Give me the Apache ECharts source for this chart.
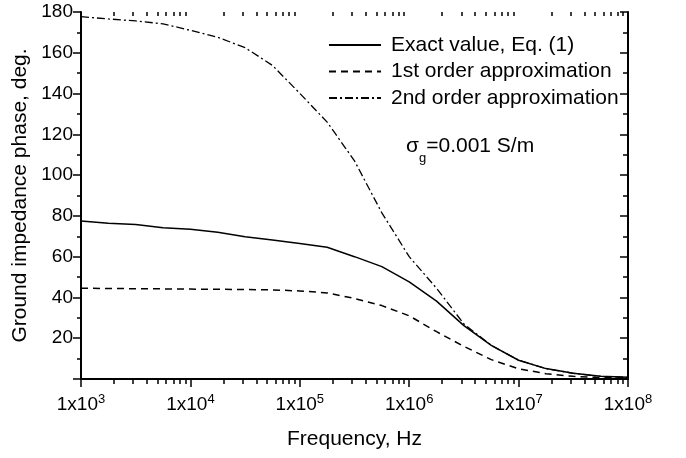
<!DOCTYPE html>
<html>
<head>
<meta charset="utf-8">
<script src="https://cdn.jsdelivr.net/npm/echarts@6/dist/echarts.min.js"></script>
<style>html,body{margin:0;padding:0;background:#fff}#c{width:686px;height:458px}</style>
</head>
<body>
<div id="c"></div>
<script>
// Frequencies (Hz) at which values were read
var freq = [1e3, 1778, 3162, 5623, 1e4, 17783, 31623, 56234, 1e5, 177828, 316228, 562341, 1e6, 1778279, 3162278, 5623413, 1e7, 17782794, 31622777, 56234133, 1e8];
// Exact value, Eq. (1)
var exactVals = [77.5, 76.4, 75.8, 74.2, 73.4, 72.0, 69.8, 68.2, 66.5, 64.6, 60.0, 55.1, 47.6, 38.2, 26.2, 16.5, 9.2, 5.1, 2.8, 1.3, 0.8];
// 1st order approximation
var firstVals = [44.5, 44.4, 44.3, 44.2, 44.1, 44.0, 43.9, 43.7, 43.2, 42.2, 39.5, 36.0, 31.0, 23.2, 16.0, 9.5, 5.0, 2.6, 1.3, 0.7, 0.4];
// 2nd order approximation
var secondVals = [177.7, 176.6, 175.6, 174.2, 171.0, 167.6, 162.5, 153.8, 140.1, 126.0, 107.0, 81.5, 60.0, 44.5, 27.0, 16.5, 9.2, 5.1, 2.8, 1.3, 0.8];
var seriesNames = ['Exact value, Eq. (1)', '1st order approximation', '2nd order approximation'];
// x-axis tick values: decades (major) and 2..9 within each decade (minor)
var majorTickVals = [1e3, 1e4, 1e5, 1e6, 1e7, 1e8];
var minorTickVals = [];
majorTickVals.slice(0, 5).forEach(function (d) { for (var k = 2; k <= 9; k++) minorTickVals.push(k * d); });

function pairs(vals) { return freq.map(function (f, i) { return [f, vals[i]]; }); }

var FONT = 'Liberation Sans, Arial, sans-serif';
var chart = echarts.init(document.getElementById('c'), null, { renderer: 'canvas' });
var axisLine = { show: true, lineStyle: { color: '#000', width: 2 } };
var noLine = { show: false };

function minorXAxis(position, inside, len) {
  return {
    type: 'log', logBase: 10, min: 1e3, max: 1e8, position: position,
    axisLine: noLine,
    axisTick: { show: true, inside: inside, length: len, customValues: minorTickVals, lineStyle: { color: '#000', width: 1.5 } },
    axisLabel: { show: false }, splitLine: { show: false }
  };
}

chart.setOption({
  animation: false,
  backgroundColor: '#fff',
  grid: { left: 81, right: 58, top: 12, bottom: 79 },
  legend: {
    data: seriesNames,
    orient: 'vertical',
    left: 323, top: 29.5,
    itemWidth: 52, itemHeight: 14, itemGap: 5.5,
    itemStyle: { opacity: 0 },
    textStyle: { fontFamily: FONT, fontSize: 21, lineHeight: 21, color: '#000', padding: [0, 0, 0, 5] }
  },
  graphic: [{
    type: 'text', left: 406, top: 136,
    style: {
      text: '{b|σ}{s|g}{b|=0.001 S/m}',
      rich: {
        b: { fontFamily: FONT, fontSize: 21, fill: '#000', lineHeight: 36 },
        s: { fontFamily: FONT, fontSize: 13, fill: '#000', lineHeight: 12, verticalAlign: 'bottom' }
      }
    }
  }],
  xAxis: [{
    type: 'log', logBase: 10, min: 1e3, max: 1e8, position: 'bottom',
    name: 'Frequency, Hz', nameLocation: 'middle', nameGap: 50,
    nameTextStyle: { fontFamily: FONT, fontSize: 21, color: '#000' },
    axisLine: axisLine,
    axisTick: { show: true, inside: false, length: 6, lineStyle: { color: '#000', width: 1.5 } },
    splitLine: { show: false },
    axisLabel: {
      margin: 14, fontFamily: FONT, fontSize: 19, color: '#000',
      formatter: function (v) { return '{base|1x10}{sup|' + Math.round(Math.log10(v)) + '}'; },
      rich: {
        base: { fontFamily: FONT, fontSize: 19, color: '#000', lineHeight: 24 },
        sup: { fontFamily: FONT, fontSize: 13, color: '#000', lineHeight: 13, verticalAlign: 'top' }
      }
    }
  }, {
    type: 'log', logBase: 10, min: 1e3, max: 1e8, position: 'top',
    axisLine: axisLine,
    axisTick: { show: true, inside: true, length: 8, lineStyle: { color: '#000', width: 1.5 } },
    axisLabel: { show: false }, splitLine: { show: false }
  }, minorXAxis('bottom', false, 5), minorXAxis('top', true, 4)],
  yAxis: [{
    type: 'value', min: 0, max: 180, interval: 20, position: 'left',
    name: 'Ground impedance phase, deg.', nameLocation: 'middle', nameGap: 44,
    nameTextStyle: { fontFamily: FONT, fontSize: 21, color: '#000' },
    axisLine: axisLine,
    axisTick: { show: true, inside: false, length: 8, lineStyle: { color: '#000', width: 1.5 } },
    minorTick: { show: true, splitNumber: 2, length: 4, lineStyle: { color: '#000', width: 1.5 } },
    splitLine: { show: false },
    axisLabel: {
      margin: 8, fontFamily: FONT, fontSize: 19, color: '#000',
      formatter: function (v) { return v === 0 ? '' : String(v); }
    }
  }, {
    type: 'value', min: 0, max: 180, interval: 20, position: 'right',
    axisLine: axisLine,
    axisTick: { show: true, inside: true, length: 8, lineStyle: { color: '#000', width: 1.5 } },
    minorTick: { show: true, splitNumber: 2, length: 5, lineStyle: { color: '#000', width: 1.5 } },
    splitLine: { show: false }, axisLabel: { show: false }
  }],
  series: [{
    name: seriesNames[0], type: 'line', data: pairs(exactVals), symbol: 'none',
    lineStyle: { color: '#000', width: 1.5, type: 'solid' }, itemStyle: { color: '#000' }
  }, {
    name: seriesNames[1], type: 'line', data: pairs(firstVals), symbol: 'none',
    lineStyle: { color: '#000', width: 1.5, type: [7, 5] }, itemStyle: { color: '#000' }
  }, {
    name: seriesNames[2], type: 'line', data: pairs(secondVals), symbol: 'none',
    lineStyle: { color: '#000', width: 1.3, type: [8, 3, 2, 3] }, itemStyle: { color: '#000' }
  }]
});
</script>
</body>
</html>
